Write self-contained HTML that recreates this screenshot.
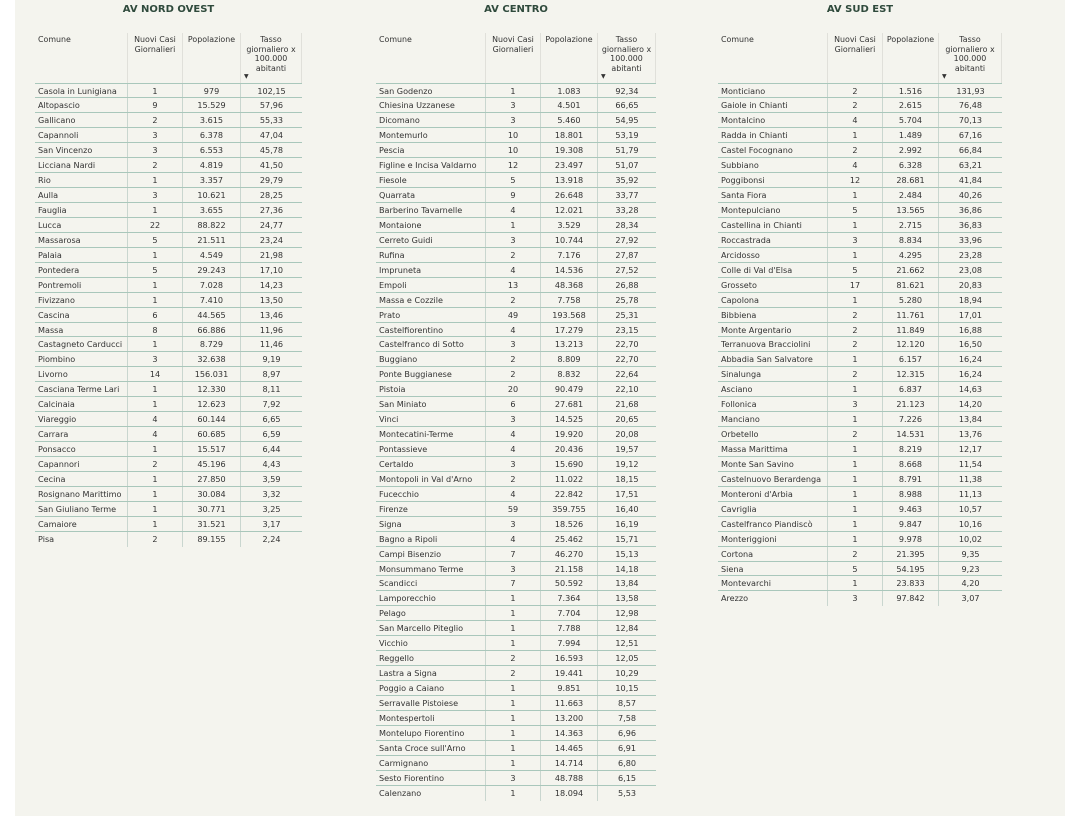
<!DOCTYPE html>
<html><head><meta charset="utf-8"><style>
body{margin:0;width:1080px;height:816px;background:#fff;font-family:"DejaVu Sans","Liberation Sans",sans-serif;overflow:hidden;position:relative}
.panel{position:absolute;left:15px;top:0;width:1050px;height:816px;background:#f4f4ee}
.t{position:absolute;top:0}
.title{position:absolute;top:4px;font-weight:bold;font-size:10px;color:#2f4a3c;text-align:center;width:100%}
.h{position:absolute;top:33px;height:50px;display:grid;font-size:7.9px;color:#333;line-height:9.5px;border-bottom:1px solid #a9c7bb}
.h span{padding:2px 2px;border-left:1px solid #e0e0da;text-align:center;position:relative}
.h span:first-child{text-align:left;border-left:none;padding-left:3px}
.h span:last-child{border-right:1px solid #e0e0da}
.rows{position:absolute;top:83.5px}
.r{display:grid;height:14.94px;box-sizing:border-box;border-bottom:1px solid #a9c7bb;font-size:8.1px;color:#333;line-height:14px}
.r:last-child{border-bottom:none}
.r span{text-align:center;border-left:1px solid #c9d6cf;white-space:nowrap;overflow:hidden}
.r span:first-child{text-align:left;padding-left:3px;border-left:none}
.arr{position:absolute;left:3px;bottom:2px;font-size:6px}
</style></head><body>
<div class="panel"></div>

<div class="t" style="left:35px;width:267px"><div class="title">AV NORD OVEST</div></div>
<div class="h" style="left:35px;width:267px;grid-template-columns:92px 55px 58px 62px"><span>Comune</span><span>Nuovi Casi Giornalieri</span><span>Popolazione</span><span>Tasso giornaliero x 100.000 abitanti<i class="arr">▼</i></span></div>
<div class="rows" style="left:35px;width:267px">
<div class="r" style="grid-template-columns:92px 55px 58px 62px"><span>Casola in Lunigiana</span><span>1</span><span>979</span><span>102,15</span></div>
<div class="r" style="grid-template-columns:92px 55px 58px 62px"><span>Altopascio</span><span>9</span><span>15.529</span><span>57,96</span></div>
<div class="r" style="grid-template-columns:92px 55px 58px 62px"><span>Gallicano</span><span>2</span><span>3.615</span><span>55,33</span></div>
<div class="r" style="grid-template-columns:92px 55px 58px 62px"><span>Capannoli</span><span>3</span><span>6.378</span><span>47,04</span></div>
<div class="r" style="grid-template-columns:92px 55px 58px 62px"><span>San Vincenzo</span><span>3</span><span>6.553</span><span>45,78</span></div>
<div class="r" style="grid-template-columns:92px 55px 58px 62px"><span>Licciana Nardi</span><span>2</span><span>4.819</span><span>41,50</span></div>
<div class="r" style="grid-template-columns:92px 55px 58px 62px"><span>Rio</span><span>1</span><span>3.357</span><span>29,79</span></div>
<div class="r" style="grid-template-columns:92px 55px 58px 62px"><span>Aulla</span><span>3</span><span>10.621</span><span>28,25</span></div>
<div class="r" style="grid-template-columns:92px 55px 58px 62px"><span>Fauglia</span><span>1</span><span>3.655</span><span>27,36</span></div>
<div class="r" style="grid-template-columns:92px 55px 58px 62px"><span>Lucca</span><span>22</span><span>88.822</span><span>24,77</span></div>
<div class="r" style="grid-template-columns:92px 55px 58px 62px"><span>Massarosa</span><span>5</span><span>21.511</span><span>23,24</span></div>
<div class="r" style="grid-template-columns:92px 55px 58px 62px"><span>Palaia</span><span>1</span><span>4.549</span><span>21,98</span></div>
<div class="r" style="grid-template-columns:92px 55px 58px 62px"><span>Pontedera</span><span>5</span><span>29.243</span><span>17,10</span></div>
<div class="r" style="grid-template-columns:92px 55px 58px 62px"><span>Pontremoli</span><span>1</span><span>7.028</span><span>14,23</span></div>
<div class="r" style="grid-template-columns:92px 55px 58px 62px"><span>Fivizzano</span><span>1</span><span>7.410</span><span>13,50</span></div>
<div class="r" style="grid-template-columns:92px 55px 58px 62px"><span>Cascina</span><span>6</span><span>44.565</span><span>13,46</span></div>
<div class="r" style="grid-template-columns:92px 55px 58px 62px"><span>Massa</span><span>8</span><span>66.886</span><span>11,96</span></div>
<div class="r" style="grid-template-columns:92px 55px 58px 62px"><span>Castagneto Carducci</span><span>1</span><span>8.729</span><span>11,46</span></div>
<div class="r" style="grid-template-columns:92px 55px 58px 62px"><span>Piombino</span><span>3</span><span>32.638</span><span>9,19</span></div>
<div class="r" style="grid-template-columns:92px 55px 58px 62px"><span>Livorno</span><span>14</span><span>156.031</span><span>8,97</span></div>
<div class="r" style="grid-template-columns:92px 55px 58px 62px"><span>Casciana Terme Lari</span><span>1</span><span>12.330</span><span>8,11</span></div>
<div class="r" style="grid-template-columns:92px 55px 58px 62px"><span>Calcinaia</span><span>1</span><span>12.623</span><span>7,92</span></div>
<div class="r" style="grid-template-columns:92px 55px 58px 62px"><span>Viareggio</span><span>4</span><span>60.144</span><span>6,65</span></div>
<div class="r" style="grid-template-columns:92px 55px 58px 62px"><span>Carrara</span><span>4</span><span>60.685</span><span>6,59</span></div>
<div class="r" style="grid-template-columns:92px 55px 58px 62px"><span>Ponsacco</span><span>1</span><span>15.517</span><span>6,44</span></div>
<div class="r" style="grid-template-columns:92px 55px 58px 62px"><span>Capannori</span><span>2</span><span>45.196</span><span>4,43</span></div>
<div class="r" style="grid-template-columns:92px 55px 58px 62px"><span>Cecina</span><span>1</span><span>27.850</span><span>3,59</span></div>
<div class="r" style="grid-template-columns:92px 55px 58px 62px"><span>Rosignano Marittimo</span><span>1</span><span>30.084</span><span>3,32</span></div>
<div class="r" style="grid-template-columns:92px 55px 58px 62px"><span>San Giuliano Terme</span><span>1</span><span>30.771</span><span>3,25</span></div>
<div class="r" style="grid-template-columns:92px 55px 58px 62px"><span>Camaiore</span><span>1</span><span>31.521</span><span>3,17</span></div>
<div class="r" style="grid-template-columns:92px 55px 58px 62px"><span>Pisa</span><span>2</span><span>89.155</span><span>2,24</span></div>
</div>

<div class="t" style="left:376px;width:280px"><div class="title">AV CENTRO</div></div>
<div class="h" style="left:376px;width:280px;grid-template-columns:109px 55px 57px 59px"><span>Comune</span><span>Nuovi Casi Giornalieri</span><span>Popolazione</span><span>Tasso giornaliero x 100.000 abitanti<i class="arr">▼</i></span></div>
<div class="rows" style="left:376px;width:280px">
<div class="r" style="grid-template-columns:109px 55px 57px 59px"><span>San Godenzo</span><span>1</span><span>1.083</span><span>92,34</span></div>
<div class="r" style="grid-template-columns:109px 55px 57px 59px"><span>Chiesina Uzzanese</span><span>3</span><span>4.501</span><span>66,65</span></div>
<div class="r" style="grid-template-columns:109px 55px 57px 59px"><span>Dicomano</span><span>3</span><span>5.460</span><span>54,95</span></div>
<div class="r" style="grid-template-columns:109px 55px 57px 59px"><span>Montemurlo</span><span>10</span><span>18.801</span><span>53,19</span></div>
<div class="r" style="grid-template-columns:109px 55px 57px 59px"><span>Pescia</span><span>10</span><span>19.308</span><span>51,79</span></div>
<div class="r" style="grid-template-columns:109px 55px 57px 59px"><span>Figline e Incisa Valdarno</span><span>12</span><span>23.497</span><span>51,07</span></div>
<div class="r" style="grid-template-columns:109px 55px 57px 59px"><span>Fiesole</span><span>5</span><span>13.918</span><span>35,92</span></div>
<div class="r" style="grid-template-columns:109px 55px 57px 59px"><span>Quarrata</span><span>9</span><span>26.648</span><span>33,77</span></div>
<div class="r" style="grid-template-columns:109px 55px 57px 59px"><span>Barberino Tavarnelle</span><span>4</span><span>12.021</span><span>33,28</span></div>
<div class="r" style="grid-template-columns:109px 55px 57px 59px"><span>Montaione</span><span>1</span><span>3.529</span><span>28,34</span></div>
<div class="r" style="grid-template-columns:109px 55px 57px 59px"><span>Cerreto Guidi</span><span>3</span><span>10.744</span><span>27,92</span></div>
<div class="r" style="grid-template-columns:109px 55px 57px 59px"><span>Rufina</span><span>2</span><span>7.176</span><span>27,87</span></div>
<div class="r" style="grid-template-columns:109px 55px 57px 59px"><span>Impruneta</span><span>4</span><span>14.536</span><span>27,52</span></div>
<div class="r" style="grid-template-columns:109px 55px 57px 59px"><span>Empoli</span><span>13</span><span>48.368</span><span>26,88</span></div>
<div class="r" style="grid-template-columns:109px 55px 57px 59px"><span>Massa e Cozzile</span><span>2</span><span>7.758</span><span>25,78</span></div>
<div class="r" style="grid-template-columns:109px 55px 57px 59px"><span>Prato</span><span>49</span><span>193.568</span><span>25,31</span></div>
<div class="r" style="grid-template-columns:109px 55px 57px 59px"><span>Castelfiorentino</span><span>4</span><span>17.279</span><span>23,15</span></div>
<div class="r" style="grid-template-columns:109px 55px 57px 59px"><span>Castelfranco di Sotto</span><span>3</span><span>13.213</span><span>22,70</span></div>
<div class="r" style="grid-template-columns:109px 55px 57px 59px"><span>Buggiano</span><span>2</span><span>8.809</span><span>22,70</span></div>
<div class="r" style="grid-template-columns:109px 55px 57px 59px"><span>Ponte Buggianese</span><span>2</span><span>8.832</span><span>22,64</span></div>
<div class="r" style="grid-template-columns:109px 55px 57px 59px"><span>Pistoia</span><span>20</span><span>90.479</span><span>22,10</span></div>
<div class="r" style="grid-template-columns:109px 55px 57px 59px"><span>San Miniato</span><span>6</span><span>27.681</span><span>21,68</span></div>
<div class="r" style="grid-template-columns:109px 55px 57px 59px"><span>Vinci</span><span>3</span><span>14.525</span><span>20,65</span></div>
<div class="r" style="grid-template-columns:109px 55px 57px 59px"><span>Montecatini-Terme</span><span>4</span><span>19.920</span><span>20,08</span></div>
<div class="r" style="grid-template-columns:109px 55px 57px 59px"><span>Pontassieve</span><span>4</span><span>20.436</span><span>19,57</span></div>
<div class="r" style="grid-template-columns:109px 55px 57px 59px"><span>Certaldo</span><span>3</span><span>15.690</span><span>19,12</span></div>
<div class="r" style="grid-template-columns:109px 55px 57px 59px"><span>Montopoli in Val d'Arno</span><span>2</span><span>11.022</span><span>18,15</span></div>
<div class="r" style="grid-template-columns:109px 55px 57px 59px"><span>Fucecchio</span><span>4</span><span>22.842</span><span>17,51</span></div>
<div class="r" style="grid-template-columns:109px 55px 57px 59px"><span>Firenze</span><span>59</span><span>359.755</span><span>16,40</span></div>
<div class="r" style="grid-template-columns:109px 55px 57px 59px"><span>Signa</span><span>3</span><span>18.526</span><span>16,19</span></div>
<div class="r" style="grid-template-columns:109px 55px 57px 59px"><span>Bagno a Ripoli</span><span>4</span><span>25.462</span><span>15,71</span></div>
<div class="r" style="grid-template-columns:109px 55px 57px 59px"><span>Campi Bisenzio</span><span>7</span><span>46.270</span><span>15,13</span></div>
<div class="r" style="grid-template-columns:109px 55px 57px 59px"><span>Monsummano Terme</span><span>3</span><span>21.158</span><span>14,18</span></div>
<div class="r" style="grid-template-columns:109px 55px 57px 59px"><span>Scandicci</span><span>7</span><span>50.592</span><span>13,84</span></div>
<div class="r" style="grid-template-columns:109px 55px 57px 59px"><span>Lamporecchio</span><span>1</span><span>7.364</span><span>13,58</span></div>
<div class="r" style="grid-template-columns:109px 55px 57px 59px"><span>Pelago</span><span>1</span><span>7.704</span><span>12,98</span></div>
<div class="r" style="grid-template-columns:109px 55px 57px 59px"><span>San Marcello Piteglio</span><span>1</span><span>7.788</span><span>12,84</span></div>
<div class="r" style="grid-template-columns:109px 55px 57px 59px"><span>Vicchio</span><span>1</span><span>7.994</span><span>12,51</span></div>
<div class="r" style="grid-template-columns:109px 55px 57px 59px"><span>Reggello</span><span>2</span><span>16.593</span><span>12,05</span></div>
<div class="r" style="grid-template-columns:109px 55px 57px 59px"><span>Lastra a Signa</span><span>2</span><span>19.441</span><span>10,29</span></div>
<div class="r" style="grid-template-columns:109px 55px 57px 59px"><span>Poggio a Caiano</span><span>1</span><span>9.851</span><span>10,15</span></div>
<div class="r" style="grid-template-columns:109px 55px 57px 59px"><span>Serravalle Pistoiese</span><span>1</span><span>11.663</span><span>8,57</span></div>
<div class="r" style="grid-template-columns:109px 55px 57px 59px"><span>Montespertoli</span><span>1</span><span>13.200</span><span>7,58</span></div>
<div class="r" style="grid-template-columns:109px 55px 57px 59px"><span>Montelupo Fiorentino</span><span>1</span><span>14.363</span><span>6,96</span></div>
<div class="r" style="grid-template-columns:109px 55px 57px 59px"><span>Santa Croce sull'Arno</span><span>1</span><span>14.465</span><span>6,91</span></div>
<div class="r" style="grid-template-columns:109px 55px 57px 59px"><span>Carmignano</span><span>1</span><span>14.714</span><span>6,80</span></div>
<div class="r" style="grid-template-columns:109px 55px 57px 59px"><span>Sesto Fiorentino</span><span>3</span><span>48.788</span><span>6,15</span></div>
<div class="r" style="grid-template-columns:109px 55px 57px 59px"><span>Calenzano</span><span>1</span><span>18.094</span><span>5,53</span></div>
</div>

<div class="t" style="left:718px;width:284px"><div class="title">AV SUD EST</div></div>
<div class="h" style="left:718px;width:284px;grid-template-columns:109px 55px 56px 64px"><span>Comune</span><span>Nuovi Casi Giornalieri</span><span>Popolazione</span><span>Tasso giornaliero x 100.000 abitanti<i class="arr">▼</i></span></div>
<div class="rows" style="left:718px;width:284px">
<div class="r" style="grid-template-columns:109px 55px 56px 64px"><span>Monticiano</span><span>2</span><span>1.516</span><span>131,93</span></div>
<div class="r" style="grid-template-columns:109px 55px 56px 64px"><span>Gaiole in Chianti</span><span>2</span><span>2.615</span><span>76,48</span></div>
<div class="r" style="grid-template-columns:109px 55px 56px 64px"><span>Montalcino</span><span>4</span><span>5.704</span><span>70,13</span></div>
<div class="r" style="grid-template-columns:109px 55px 56px 64px"><span>Radda in Chianti</span><span>1</span><span>1.489</span><span>67,16</span></div>
<div class="r" style="grid-template-columns:109px 55px 56px 64px"><span>Castel Focognano</span><span>2</span><span>2.992</span><span>66,84</span></div>
<div class="r" style="grid-template-columns:109px 55px 56px 64px"><span>Subbiano</span><span>4</span><span>6.328</span><span>63,21</span></div>
<div class="r" style="grid-template-columns:109px 55px 56px 64px"><span>Poggibonsi</span><span>12</span><span>28.681</span><span>41,84</span></div>
<div class="r" style="grid-template-columns:109px 55px 56px 64px"><span>Santa Fiora</span><span>1</span><span>2.484</span><span>40,26</span></div>
<div class="r" style="grid-template-columns:109px 55px 56px 64px"><span>Montepulciano</span><span>5</span><span>13.565</span><span>36,86</span></div>
<div class="r" style="grid-template-columns:109px 55px 56px 64px"><span>Castellina in Chianti</span><span>1</span><span>2.715</span><span>36,83</span></div>
<div class="r" style="grid-template-columns:109px 55px 56px 64px"><span>Roccastrada</span><span>3</span><span>8.834</span><span>33,96</span></div>
<div class="r" style="grid-template-columns:109px 55px 56px 64px"><span>Arcidosso</span><span>1</span><span>4.295</span><span>23,28</span></div>
<div class="r" style="grid-template-columns:109px 55px 56px 64px"><span>Colle di Val d'Elsa</span><span>5</span><span>21.662</span><span>23,08</span></div>
<div class="r" style="grid-template-columns:109px 55px 56px 64px"><span>Grosseto</span><span>17</span><span>81.621</span><span>20,83</span></div>
<div class="r" style="grid-template-columns:109px 55px 56px 64px"><span>Capolona</span><span>1</span><span>5.280</span><span>18,94</span></div>
<div class="r" style="grid-template-columns:109px 55px 56px 64px"><span>Bibbiena</span><span>2</span><span>11.761</span><span>17,01</span></div>
<div class="r" style="grid-template-columns:109px 55px 56px 64px"><span>Monte Argentario</span><span>2</span><span>11.849</span><span>16,88</span></div>
<div class="r" style="grid-template-columns:109px 55px 56px 64px"><span>Terranuova Bracciolini</span><span>2</span><span>12.120</span><span>16,50</span></div>
<div class="r" style="grid-template-columns:109px 55px 56px 64px"><span>Abbadia San Salvatore</span><span>1</span><span>6.157</span><span>16,24</span></div>
<div class="r" style="grid-template-columns:109px 55px 56px 64px"><span>Sinalunga</span><span>2</span><span>12.315</span><span>16,24</span></div>
<div class="r" style="grid-template-columns:109px 55px 56px 64px"><span>Asciano</span><span>1</span><span>6.837</span><span>14,63</span></div>
<div class="r" style="grid-template-columns:109px 55px 56px 64px"><span>Follonica</span><span>3</span><span>21.123</span><span>14,20</span></div>
<div class="r" style="grid-template-columns:109px 55px 56px 64px"><span>Manciano</span><span>1</span><span>7.226</span><span>13,84</span></div>
<div class="r" style="grid-template-columns:109px 55px 56px 64px"><span>Orbetello</span><span>2</span><span>14.531</span><span>13,76</span></div>
<div class="r" style="grid-template-columns:109px 55px 56px 64px"><span>Massa Marittima</span><span>1</span><span>8.219</span><span>12,17</span></div>
<div class="r" style="grid-template-columns:109px 55px 56px 64px"><span>Monte San Savino</span><span>1</span><span>8.668</span><span>11,54</span></div>
<div class="r" style="grid-template-columns:109px 55px 56px 64px"><span>Castelnuovo Berardenga</span><span>1</span><span>8.791</span><span>11,38</span></div>
<div class="r" style="grid-template-columns:109px 55px 56px 64px"><span>Monteroni d'Arbia</span><span>1</span><span>8.988</span><span>11,13</span></div>
<div class="r" style="grid-template-columns:109px 55px 56px 64px"><span>Cavriglia</span><span>1</span><span>9.463</span><span>10,57</span></div>
<div class="r" style="grid-template-columns:109px 55px 56px 64px"><span>Castelfranco Piandiscò</span><span>1</span><span>9.847</span><span>10,16</span></div>
<div class="r" style="grid-template-columns:109px 55px 56px 64px"><span>Monteriggioni</span><span>1</span><span>9.978</span><span>10,02</span></div>
<div class="r" style="grid-template-columns:109px 55px 56px 64px"><span>Cortona</span><span>2</span><span>21.395</span><span>9,35</span></div>
<div class="r" style="grid-template-columns:109px 55px 56px 64px"><span>Siena</span><span>5</span><span>54.195</span><span>9,23</span></div>
<div class="r" style="grid-template-columns:109px 55px 56px 64px"><span>Montevarchi</span><span>1</span><span>23.833</span><span>4,20</span></div>
<div class="r" style="grid-template-columns:109px 55px 56px 64px"><span>Arezzo</span><span>3</span><span>97.842</span><span>3,07</span></div>
</div>
</body></html>
